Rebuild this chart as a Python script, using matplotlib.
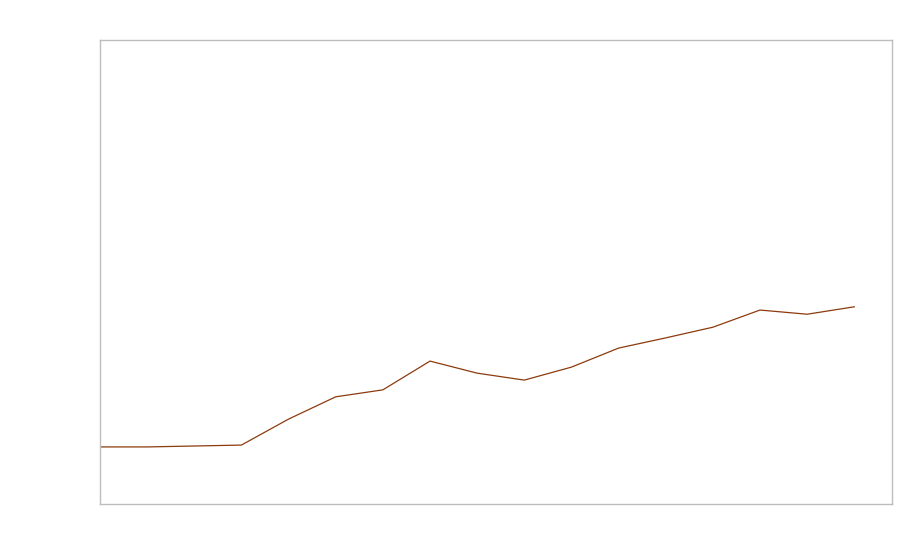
import matplotlib
matplotlib.use('Agg')
from matplotlib import pyplot as plt

periods = list(range(17))
values = [12.3, 12.3, 12.5, 12.7, 18.3, 23.1, 24.6, 30.8, 28.2, 26.7,
          29.5, 33.6, 35.8, 38.1, 41.8, 40.9, 42.5]

fig = plt.figure(figsize=(9, 5.6), dpi=100)
ax = fig.add_axes([100 / 900, 56 / 560, 792 / 900, 464 / 560])

ax.plot(periods, values, color='#8c3b0c', lw=0.9)

ax.set_xlim(0, 16.8)
ax.set_ylim(0, 100)
ax.set_xticks([])
ax.set_yticks([])
for spine in ax.spines.values():
    spine.set_color('#bdbdbd')
    spine.set_linewidth(1)

fig.savefig('out.png', dpi=100)
